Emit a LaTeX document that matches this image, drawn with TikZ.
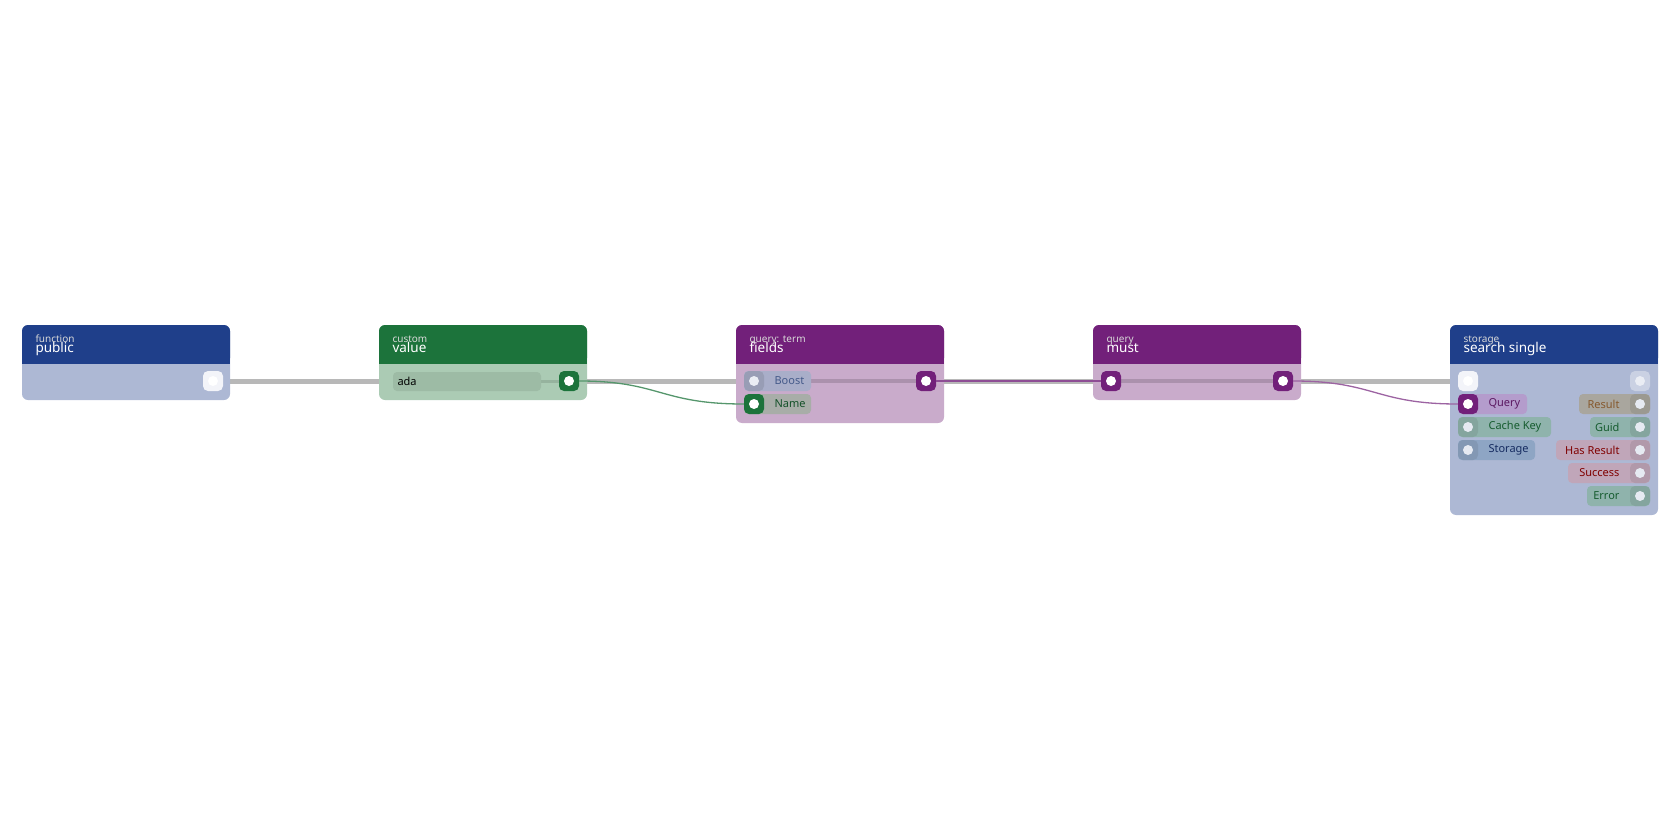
\documentclass[tikz,border=0pt]{standalone}
\usepackage{fontspec}
\setmainfont{Noto Sans}
\begin{document}
\begin{tikzpicture}[x=1pt,y=-1pt,
  pin/.style={minimum size=20pt,inner sep=0pt,rounded corners=5pt},
  dot/.style={circle,fill=#1,minimum size=10pt,inner sep=0pt},
  lab/.style={font=\fontsize{11}{11}\selectfont},
  cat/.style={font=\fontsize{10}{10}\selectfont,text=white!85!black,anchor=base west},
  ttl/.style={font=\fontsize{13.5}{13}\selectfont,text=white,anchor=base west},
  wire/.style={line width=1.3pt}]
\definecolor{blueH}{HTML}{1F3F8A}\definecolor{blueB}{HTML}{ADB8D4}
\definecolor{greenH}{HTML}{1C733B}\definecolor{greenB}{HTML}{ABCBB4}
\definecolor{purH}{HTML}{72207A}\definecolor{purB}{HTML}{C9ABCB}
\definecolor{adaC}{HTML}{9DBBA5}
\definecolor{tealP}{HTML}{8FB3AC}\definecolor{stP}{HTML}{8EA5C4}
\definecolor{resP}{HTML}{A9A69E}\definecolor{hrP}{HTML}{C0A6B9}
\definecolor{qP}{HTML}{B49CCC}\definecolor{boP}{HTML}{A9AEC9}\definecolor{naP}{HTML}{A8ADA8}
\useasboundingbox (0,0) rectangle (1680,840);
\coordinate (e1) at (213,381); \coordinate (e2) at (1468,381);
\draw[line width=5pt,color=black!28] (e1) -- (e2);
\newcommand\nodebox[6]{%
  \fill[#4,rounded corners=6pt] (#1,325) rectangle (#1+208,#2);
  \fill[#3,rounded corners=6pt] (#1,325) rectangle (#1+208,364);
  \fill[#4] (#1,364) rectangle (#1+208,375);
  \fill[#3] (#1,355) rectangle (#1+208,364);
  \node[cat] at (#1+10,342) {#5};
  \node[ttl] at (#1+10,352) {#6};}
\nodebox{22}{400}{blueH}{blueB}{function}{public}
\nodebox{379}{400}{greenH}{greenB}{custom}{value}
\nodebox{736}{423}{purH}{purB}{query: term}{fields}
\nodebox{1093}{400}{purH}{purB}{query}{must}
\nodebox{1450}{515}{blueH}{blueB}{storage}{search single}
\draw[line width=4pt,color=purB!85!black] (754,381) -- (926,381);
\draw[line width=4pt,color=purB!85!black] (1111,381) -- (1283,381);
\draw[line width=3pt,color=greenB!88!black] (541,381) -- (579,381);
\fill[adaC,rounded corners=4pt] (393,372) rectangle (541,391);
\node[lab,anchor=west] (ada) at (394,381) {ada};
\fill[rounded corners=4pt,fill=boP] (744,371) rectangle (811,391);
\node[lab,text=black!60!cyan!60!blue,anchor=west] at (771,381) {Boost};
\fill[rounded corners=4pt,fill=naP] (744,394) rectangle (811,414);
\node[lab,text=greenH!70!black,anchor=west] at (771,404) {Name};
\fill[rounded corners=4pt,fill=qP] (1458,394) rectangle (1527,414);
\node[lab,text=purH!80!black,anchor=west] at (1485,404) {Query};
\fill[rounded corners=4pt,fill=tealP] (1458,417) rectangle (1551,437);
\node[lab,text=greenH!80!black,anchor=west] at (1485,427) {Cache Key};
\fill[rounded corners=4pt,fill=stP] (1458,440) rectangle (1535,460);
\node[lab,text=blueH!70!black,anchor=west] at (1485,450) {Storage};
\fill[rounded corners=4pt,fill=resP] (1579,394) rectangle (1650,414);
\node[lab,text=brown!70!black,anchor=east] at (1623,404) {Result};
\fill[rounded corners=4pt,fill=tealP] (1590,417) rectangle (1650,437);
\node[lab,text=greenH!80!black,anchor=east] at (1623,427) {Guid};
\fill[rounded corners=4pt,fill=hrP] (1556,440) rectangle (1650,460);
\node[lab,text=red!50!black,anchor=east] at (1623,450) {Has Result};
\fill[rounded corners=4pt,fill=hrP] (1568,463) rectangle (1650,483);
\node[lab,text=red!50!black,anchor=east] at (1623,473) {Success};
\fill[rounded corners=4pt,fill=tealP] (1587,486) rectangle (1650,506);
\node[lab,text=greenH!80!black,anchor=east] at (1623,496) {Error};
\node[pin,fill=white!85!blueB] (pubout) at (213,381) {}; \node[dot=white] at (pubout) {};
\node[pin,fill=greenH] (valout) at (569,381) {}; \node[dot=white] at (valout) {};
\node[pin,fill=boP!90!black] (boost) at (754,381) {}; \node[dot=white!75!blueB] at (boost) {};
\node[pin,fill=greenH] (name) at (754,404) {}; \node[dot=white] at (name) {};
\node[pin,fill=purH] (fout) at (926,381) {}; \node[dot=white] at (fout) {};
\node[pin,fill=purH] (min) at (1111,381) {}; \node[dot=white] at (min) {};
\node[pin,fill=purH] (mout) at (1283,381) {}; \node[dot=white] at (mout) {};
\node[pin,fill=white!85!blueB] (sin) at (1468,381) {}; \node[dot=white] at (sin) {};
\node[pin,fill=white!35!blueB] (sout) at (1640,381) {}; \node[dot=white!75!blueB] at (sout) {};
\node[pin,fill=purH] (q) at (1468,404) {}; \node[dot=white] at (q) {};
\node[pin,fill=tealP!92!black] (ck) at (1468,427) {}; \node[dot=white!70!blueB] at (ck) {};
\node[pin,fill=stP!92!black] (st) at (1468,450) {}; \node[dot=white!70!blueB] at (st) {};
\node[pin,fill=resP!92!black] (r) at (1640,404) {}; \node[dot=white!70!blueB] at (r) {};
\node[pin,fill=tealP!92!black] (g) at (1640,427) {}; \node[dot=white!70!blueB] at (g) {};
\node[pin,fill=hrP!92!black] (h) at (1640,450) {}; \node[dot=white!70!blueB] at (h) {};
\node[pin,fill=hrP!92!black] (s) at (1640,473) {}; \node[dot=white!70!blueB] at (s) {};
\node[pin,fill=tealP!92!black] (e) at (1640,496) {}; \node[dot=white!70!blueB] at (e) {};
\draw[wire,color=greenH!75!white] (valout.east) .. controls (660,381) and (660,404) .. (name.west);
\draw[wire,color=purH!80!white] (fout.east) -- (min.west);
\draw[wire,color=purH!70!white] (mout.east) .. controls (1375,381) and (1375,404) .. (q.west);
\end{tikzpicture}
\end{document}
